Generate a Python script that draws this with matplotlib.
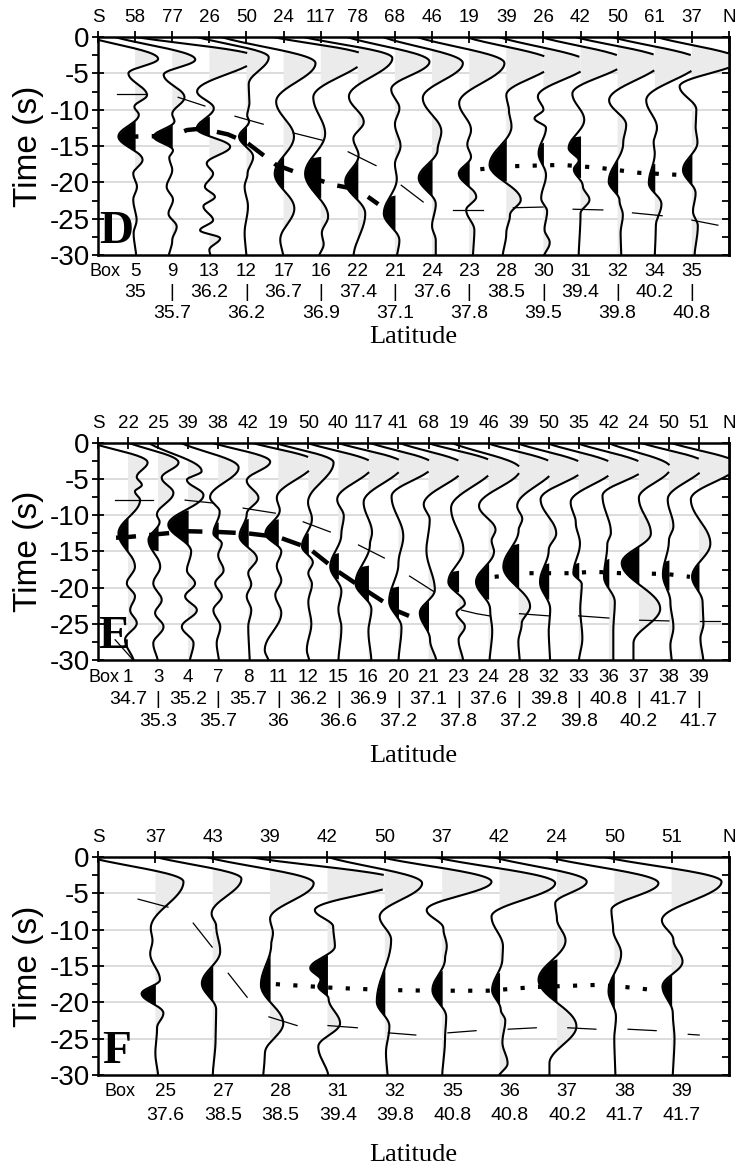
import numpy as np
import matplotlib
matplotlib.use('Agg')
import matplotlib.pyplot as plt
from matplotlib.transforms import blended_transform_factory

plt.rcParams['font.family'] = 'Liberation Sans'

# ---- panel D -------------------------------------------------------------
d_counts = ['58', '77', '26', '50', '24', '117', '78', '68', '46', '19', '39',
            '26', '42', '50', '61', '37']
d_boxes = ['5', '9', '13', '12', '17', '16', '22', '21', '24', '23', '28',
           '30', '31', '32', '34', '35']
d_lats = ['35', '35.7', '36.2', '36.2', '36.7', '36.9', '37.4', '37.1', '37.6',
          '37.8', '38.5', '39.5', '39.4', '39.8', '40.2', '40.8']
# wiggle extrema (time s, amplitude in trace spacings)
d_traces = [
    [(1, -1.6), (-3.0, 0.62), (-5.0, -0.18), (-8.0, 0.32), (-9.6, -0.02), (-10.7, 0.1), (-13.7, -0.45),
     (-16.9, 0.2), (-18.8, -0.05), (-20.6, 0.05), (-22.4, -0.05), (-25.2, 0.04), (-27.0, -0.04), (-30.5, 0.03)],
    [(1, -1.9), (-3.1, 0.62), (-5.2, -0.23), (-8.3, 0.33), (-10.6, 0.0), (-11.6, 0.06), (-13.7, -0.5),
     (-15.6, 0.02), (-16.6, -0.08), (-18.3, 0.0), (-20.6, -0.15), (-22.4, 0.02), (-24.3, -0.1),
     (-26.1, 0.12), (-28.0, 0.0), (-30.5, -0.1)],
    [(1, -2.6), (-2.8, 1.25), (-7.5, -0.33), (-9.8, 0.12), (-12.6, -0.34), (-15.1, 0.56), (-17.4, -0.07),
     (-18.8, 0.1), (-20.6, -0.12), (-22.0, 0.15), (-23.3, -0.16), (-25.2, 0.1), (-26.6, -0.25),
     (-27.7, 0.29), (-29.3, 0.0), (-30.5, 0.05)],
    [(1, -1.7), (-2.8, 0.6), (-6.5, 0.06), (-9.0, 0.08), (-10.8, 0.02), (-11.6, 0.07), (-13.7, -0.2),
     (-16.5, 0.18), (-18.8, 0.03), (-20.6, -0.05), (-23.3, 0.04), (-27.0, -0.05), (-30.5, 0.0)],
    [(1, -2.0), (-3.6, 0.86), (-8.9, -0.2), (-13.7, 0.28), (-18.8, -0.24), (-23.6, 0.29), (-27.9, -0.09),
     (-30.5, 0.0)],
    [(1, -1.8), (-2.7, 1.2), (-8.3, -0.2), (-13.3, 0.12), (-18.8, -0.42), (-24.7, 0.2), (-27.0, 0.03),
     (-28.5, 0.08), (-30.5, -0.06)],
    [(1, -1.9), (-2.9, 0.93), (-8.2, -0.24), (-11.7, 0.16), (-14.0, -0.12), (-16.3, 0.02), (-19.9, -0.34),
     (-24.3, 0.2), (-30.5, -0.12)],
    [(1, -1.6), (-3.4, 0.93), (-7.2, -0.1), (-9.8, 0.12), (-12.0, 0.0), (-15.0, 0.15), (-17.5, 0.0),
     (-19.5, 0.05), (-24.3, -0.3), (-28.0, 0.12), (-30.5, 0.05)],
    [(1, -1.6), (-3.6, 0.83), (-8.4, -0.25), (-13.0, 0.25), (-15.5, 0.15), (-19.4, -0.36), (-23.0, 0.1),
     (-26.0, 0.0), (-28.0, 0.1), (-30.5, 0.1)],
    [(1, -1.7), (-3.6, 0.95), (-9.1, -0.27), (-12.8, 0.05), (-14.8, -0.05), (-16.5, 0.05), (-18.8, -0.28),
     (-22.0, 0.19), (-23.8, -0.08), (-26.6, 0.14), (-30.5, 0.1)],
    [(1, -1.4), (-3.5, 1.25), (-8.0, 0.0), (-10.0, 0.07), (-12.3, 0.14), (-17.6, -0.45), (-22.4, 0.39),
     (-24.5, 0.1), (-27.0, 0.0), (-30.5, -0.1)],
    [(1, -1.5), (-3.6, 1.2), (-8.2, -0.15), (-10.0, 0.0), (-11.2, -0.24), (-12.5, 0.07), (-16.0, -0.13),
     (-19.0, 0.07), (-22.2, -0.06), (-24.0, 0.1), (-26.5, 0.03), (-28.3, 0.17), (-30.5, 0.0)],
    [(1, -1.4), (-3.3, 1.2), (-7.8, -0.22), (-11.4, 0.1), (-15.3, -0.32), (-17.0, -0.05), (-18.2, -0.18),
     (-20.5, 0.06), (-22.4, 0.24), (-24.3, 0.0), (-30.5, -0.05)],
    [(1, -1.5), (-3.2, 1.2), (-8.7, -0.23), (-12.1, 0.23), (-14.6, 0.15), (-19.9, -0.24), (-22.5, 0.05),
     (-24.5, 0.14), (-27.0, 0.08), (-30.5, 0.1)],
    [(1, -1.5), (-3.3, 1.2), (-8.7, -0.23), (-12.5, 0.06), (-14.5, -0.03), (-16.0, 0.0), (-20.1, -0.16),
     (-23.0, 0.18), (-26.0, 0.03), (-30.5, 0.0)],
    [(1, -1.3), (-3.2, 1.3), (-6.8, -0.33), (-10.0, 0.12), (-12.3, 0.1), (-14.5, 0.15), (-18.3, -0.24),
     (-21.5, 0.1), (-24.0, 0.03), (-26.0, 0.16), (-30.5, 0.07)],
]
d_black = [(-11.0, -15.8), (-11.8, -15.3), (-11.0, -14.0), (-11.8, -15.2), (-15.0, -21.0), (-16.5, -22.0),
           (-16.8, -22.8), (-21.8, -26.8), (-16.5, -21.8), (-17.0, -20.6), (-14.2, -19.8), (-14.6, -18.0),
           (-13.7, -19.3), (-16.5, -22.5), (-17.5, -22.4), (-15.5, -20.6)]
d_dash = [(0.55, -13.8), (1, -13.7), (2, -13.6), (2.4, -12.8), (2.8, -12.6), (3.5, -13.4), (4.0, -14.5),
          (4.8, -17.6), (5.7, -19.3), (6.4, -20.4), (7.0, -21.0), (7.55, -23.0)]
d_dot = [(10.3, -18.2), (11, -17.8), (12.5, -17.6), (13.5, -18.0), (14.6, -18.7), (15.75, -19.0)]
d_moveout = [[(0.51, -7.8), (1.32, -7.8)], [(2.16, -8.3), (2.88, -9.5)], [(3.69, -10.9), (4.45, -12.0)],
             [(5.26, -13.2), (6.04, -14.2)], [(6.74, -15.8), (7.49, -17.7)], [(8.17, -20.4), (8.76, -22.7)],
             [(9.57, -23.8), (10.38, -23.8)], [(11.19, -23.5), (11.99, -23.4)], [(12.8, -23.7), (13.6, -23.8)],
             [(14.4, -24.2), (15.2, -24.6)], [(16.0, -25.2), (16.7, -25.9)]]

# ---- panel E -------------------------------------------------------------
e_counts = ['22', '25', '39', '38', '42', '19', '50', '40', '117', '41', '68', '19', '46', '39',
            '50', '35', '42', '24', '50', '51']
e_boxes = ['1', '3', '4', '7', '8', '11', '12', '15', '16', '20', '21', '23', '24', '28', '32',
           '33', '36', '37', '38', '39']
e_lats = ['34.7', '35.3', '35.2', '35.7', '35.7', '36', '36.2', '36.6', '36.9', '37.2', '37.1',
          '37.8', '37.6', '37.2', '39.8', '39.8', '40.8', '40.2', '41.7', '41.7']
e_traces = [
    [(1, -1.6), (-2.7, 0.65), (-4.7, 0.29), (-5.8, 0.46), (-6.7, 0.23), (-7.9, 0.4), (-12.5, -0.32),
     (-17.1, 0.23), (-19.4, -0.04), (-21.2, 0.23), (-23.1, 0.07), (-24.9, 0.29), (-27.2, -0.1), (-30.5, 0.2)],
    [(1, -1.3), (-2.7, 0.68), (-4.8, 0.12), (-6.9, 0.51), (-9.9, -0.04), (-10.9, 0.05), (-13.4, -0.32),
     (-17.1, 0.07), (-19.4, -0.16), (-21.7, 0.12), (-23.5, -0.1), (-25.4, 0.18), (-27.7, -0.16), (-30.5, 0.0)],
    [(1, -1.5), (-3.9, 0.45), (-5.1, -0.04), (-7.2, 0.51), (-11.3, -0.66), (-15.0, 0.1), (-17.6, -0.04),
     (-19.4, 0.23), (-21.2, -0.1), (-23.1, 0.29), (-25.4, -0.21), (-27.7, 0.18), (-30.5, 0.05)],
    [(1, -1.5), (-3.4, 0.68), (-7.5, -0.27), (-9.5, 0.05), (-12.5, -0.16), (-13.9, 0.12), (-15.5, 0.0),
     (-17.6, 0.18), (-19.4, -0.1), (-21.2, 0.12), (-23.1, -0.16), (-25.4, 0.07), (-27.7, -0.05), (-30.5, 0.03)],
    [(1, -1.6), (-2.6, 0.73), (-5.2, -0.05), (-7.6, 0.34), (-9.8, -0.05), (-12.9, -0.29), (-16.0, 0.29),
     (-18.0, 0.0), (-19.5, 0.1), (-21.2, -0.05), (-23.1, 0.1), (-25.4, 0.0), (-30.5, 0.05)],
    [(1, -1.3), (-2.6, 1.2), (-7.6, -0.05), (-9.3, 0.05), (-12.5, -0.43), (-15.0, 0.1), (-17.0, -0.05),
     (-19.0, 0.1), (-21.0, -0.1), (-23.5, 0.1), (-28.6, -0.45), (-30.5, -0.3)],
    [(1, -1.5), (-2.7, 0.84), (-8.2, -0.01), (-10.5, 0.12), (-14.3, -0.21), (-16.5, 0.15), (-18.0, 0.0),
     (-19.5, 0.12), (-22.0, 0.0), (-25.0, 0.1), (-28.6, -0.05), (-30.5, 0.05)],
    [(1, -1.4), (-3.0, 1.15), (-7.8, -0.04), (-10.1, 0.18), (-12.6, 0.1), (-17.1, -0.27), (-20.5, 0.1),
     (-23.0, 0.0), (-25.5, 0.1), (-30.5, 0.0)],
    [(1, -1.4), (-2.9, 1.15), (-8.2, -0.16), (-12.4, 0.12), (-14.0, 0.05), (-19.4, -0.43), (-23.0, 0.1),
     (-26.0, 0.0), (-30.5, 0.1)],
    [(1, -1.3), (-3.0, 1.15), (-7.4, -0.23), (-12.9, 0.16), (-16.6, 0.0), (-21.9, -0.31), (-25.5, 0.1),
     (-30.5, 0.0)],
    [(1, -1.3), (-3.2, 1.2), (-8.5, -0.16), (-10.6, 0.04), (-14.8, -0.07), (-20.3, 0.21), (-23.5, -0.29),
     (-27.2, 0.05), (-30.5, 0.27)],
    [(1, -1.4), (-3.0, 1.2), (-9.0, -0.25), (-14.8, 0.16), (-19.2, -0.34), (-22.2, 0.21), (-23.5, -0.07),
     (-25.4, 0.21), (-27.2, 0.0), (-30.5, 0.16)],
    [(1, -1.5), (-3.6, 1.05), (-8.7, -0.32), (-12.0, 0.23), (-13.5, 0.1), (-15.0, 0.18), (-19.2, -0.42),
     (-23.0, 0.05), (-26.0, 0.12), (-30.5, 0.03)],
    [(1, -1.4), (-3.2, 1.2), (-8.7, -0.05), (-10.5, 0.12), (-12.0, 0.0), (-17.1, -0.51), (-22.6, 0.38),
     (-25.0, 0.1), (-27.5, -0.01), (-30.5, 0.04)],
    [(1, -1.4), (-3.3, 1.2), (-7.8, -0.27), (-12.5, 0.25), (-14.8, 0.0), (-19.2, -0.29), (-23.0, 0.05),
     (-26.0, 0.0), (-30.5, 0.05)],
    [(1, -1.4), (-3.3, 1.2), (-8.2, -0.27), (-11.0, -0.1), (-13.9, 0.04), (-18.0, -0.18), (-19.5, 0.1),
     (-23.0, 0.05), (-27.0, 0.12), (-30.5, 0.0)],
    [(1, -1.4), (-3.3, 1.2), (-7.3, -0.21), (-12.4, 0.07), (-14.0, -0.05), (-18.5, -0.16), (-22.0, 0.2),
     (-26.0, 0.15), (-30.5, 0.15)],
    [(1, -1.3), (-3.4, 1.05), (-7.6, 0.0), (-12.5, 0.4), (-16.6, -0.57), (-22.9, 0.71), (-27.7, -0.18),
     (-30.5, -0.18)],
    [(1, -1.3), (-2.9, 1.2), (-7.8, -0.04), (-11.5, 0.15), (-13.5, 0.0), (-18.2, -0.2), (-22.0, 0.05),
     (-25.5, 0.15), (-28.0, 0.05), (-30.5, 0.1)],
    [(1, -1.3), (-3.0, 1.3), (-7.8, -0.27), (-13.9, 0.38), (-18.5, -0.23), (-22.0, 0.12), (-25.0, 0.15),
     (-27.0, 0.05), (-30.5, 0.15)],
]
e_black = [(-9.7, -14.8), (-11.1, -14.8), (-9.3, -14.8), (-11.0, -13.3), (-10.5, -14.6), (-10.5, -14.6),
           (-12.5, -15.5), (-15.2, -18.7), (-17.0, -22.5), (-19.8, -24.4), (-21.5, -25.9), (-17.7, -20.5),
           (-16.5, -21.5), (-13.9, -20.3), (-16.6, -21.6), (-16.6, -19.7), (-16.0, -20.6), (-13.9, -20.0),
           (-16.2, -20.3), (-16.4, -20.8)]
e_dash = [(0.6, -13.1), (1, -13.0), (2, -12.6), (3, -12.2), (4, -12.3), (5, -12.5), (6, -13.0),
          (7, -14.5), (8, -17.8), (9, -20.6), (10, -23.3), (10.35, -23.9)]
e_dot = [(13.2, -18.5), (14.3, -18.0), (15.7, -18.0), (16.5, -17.8), (17.4, -18.0), (18.9, -18.1),
         (19.7, -18.5)]
e_moveout = [[(0.57, -7.9), (1.83, -7.9)], [(2.9, -7.9), (3.83, -8.3)], [(4.83, -9.0), (5.9, -9.7)],
             [(6.83, -10.9), (7.73, -12.3)], [(8.67, -14.1), (9.53, -15.9)], [(10.37, -18.4), (11.2, -20.6)],
             [(12.1, -23.1), (12.6, -23.6), (13.03, -23.9)], [(14.03, -23.6), (15.0, -23.9)],
             [(16.0, -23.9), (17.0, -24.2)], [(18.03, -24.5), (19.0, -24.6)], [(20.03, -24.6), (20.7, -24.6)],
             [(0.57, -27.2), (1.17, -30.0)]]

# ---- panel F -------------------------------------------------------------
f_counts = ['37', '43', '39', '42', '50', '37', '42', '24', '50', '51']
f_boxes = ['25', '27', '28', '31', '32', '35', '36', '37', '38', '39']
f_lats = ['37.6', '38.5', '38.5', '39.4', '39.8', '40.8', '40.8', '40.2', '41.7', '41.7']
f_traces = [
    [(1, -1.4), (-3.4, 0.49), (-9.8, -0.08), (-11.5, -0.05), (-13.3, -0.09), (-16.9, 0.08), (-18.8, -0.24),
     (-21.5, 0.14), (-23.5, 0.03), (-27.0, 0.0), (-30.5, 0.05)],
    [(1, -1.25), (-3.0, 0.5), (-7.8, -0.02), (-9.5, 0.06), (-13.0, 0.13), (-17.4, -0.19), (-21.0, 0.06),
     (-25.0, 0.05), (-30.5, 0.0)],
    [(1, -1.35), (-3.6, 0.76), (-8.5, 0.0), (-10.5, 0.05), (-12.0, 0.02), (-17.6, -0.16), (-22.9, 0.23),
     (-27.0, -0.09), (-30.5, -0.12)],
    [(1, -1.75), (-3.3, 1.25), (-7.3, -0.22), (-9.6, 0.1), (-12.3, 0.13), (-15.3, -0.3), (-16.9, -0.12),
     (-17.8, -0.16), (-19.5, 0.02), (-22.9, 0.22), (-26.1, -0.16), (-30.5, 0.02)],
    [(1, -1.2), (-3.6, 0.65), (-8.2, -0.09), (-11.4, 0.11), (-19.9, -0.14), (-23.3, 0.08), (-27.0, 0.02),
     (-30.5, 0.05)],
    [(1, -1.35), (-3.4, 0.86), (-7.3, -0.27), (-9.8, 0.02), (-12.3, 0.08), (-14.0, 0.05), (-18.3, -0.17),
     (-22.0, 0.07), (-25.0, 0.05), (-30.5, 0.0)],
    [(1, -1.4), (-3.6, 0.97), (-8.2, -0.14), (-12.3, 0.06), (-14.0, 0.05), (-18.3, -0.13), (-21.0, 0.02),
     (-22.5, 0.1), (-25.5, 0.05), (-28.4, 0.14), (-30.5, -0.03)],
    [(1, -1.35), (-3.4, 0.52), (-6.4, -0.03), (-8.5, 0.0), (-11.5, 0.15), (-16.9, -0.32), (-23.3, 0.34),
     (-28.4, -0.13), (-30.5, -0.13)],
    [(1, -1.4), (-3.6, 0.77), (-7.3, -0.05), (-10.0, -0.02), (-13.3, 0.12), (-18.5, -0.1), (-22.0, 0.03),
     (-25.0, 0.0), (-30.5, 0.02)],
    [(1, -1.45), (-3.4, 0.87), (-8.7, -0.17), (-11.4, 0.03), (-14.4, 0.19), (-17.8, -0.16), (-21.5, 0.02),
     (-25.0, 0.05), (-30.5, 0.02)],
]
f_black = [(-17.5, -20.8), (-14.2, -19.7), (-13.3, -20.0), (-13.2, -19.0), (-15.6, -22.0), (-15.6, -20.6),
           (-16.0, -20.6), (-14.2, -20.1), (-16.0, -21.2), (-16.0, -21.5)]
f_dot = [(3.1, -17.5), (4.1, -18.0), (5.0, -18.3), (5.8, -18.4), (6.8, -18.4), (7.6, -17.9),
         (8.7, -17.6), (9.2, -17.9), (9.8, -18.4)]
f_moveout = [[(0.70, -5.8), (1.22, -6.9)], [(1.66, -9.1), (1.99, -12.4)], [(2.27, -16.0), (2.6, -19.3)],
             [(2.98, -22.0), (3.47, -23.2)], [(4.01, -23.2), (4.52, -23.5)], [(5.06, -24.2), (5.54, -24.5)],
             [(6.1, -24.2), (6.59, -23.9)], [(7.15, -23.7), (7.64, -23.5)], [(8.19, -23.5), (8.68, -23.7)],
             [(9.24, -23.7), (9.73, -23.9)], [(10.29, -24.4), (10.48, -24.5)]]

W, H = 736, 1169
fig = plt.figure(figsize=(W / 100, H / 100), dpi=100)


def smooth(keys, n=30):
    # cosine easing between the read extrema, for drawing only
    ts, amps = [], []
    for (t0, a0), (t1, a1) in zip(keys[:-1], keys[1:]):
        u = np.linspace(0, 1, n, endpoint=False)
        ts.append(t0 + (t1 - t0) * u)
        amps.append(a0 + (a1 - a0) * (1 - np.cos(np.pi * u)) / 2)
    ts.append([keys[-1][0]])
    amps.append([keys[-1][1]])
    return np.concatenate(ts), np.concatenate(amps)


def panel(top_px, bot_px, counts, boxes, lats, traces, black, dash, dot, moveout,
          letter, rows, shift, xlabel_px):
    ax = fig.add_axes([98 / W, 1 - bot_px / H, 631 / W, (bot_px - top_px) / H])
    hpx = bot_px - top_px
    n = len(counts)
    blend = blended_transform_factory(ax.transData, ax.transAxes)

    for k in (-5, -10, -15, -20, -25):
        ax.axhline(k, color='#d2d2d2', lw=1.1, zorder=0)

    for i, (keys, (wtop, wbot)) in enumerate(zip(traces, black), start=1):
        t, a = smooth(keys)
        ax.fill_betweenx(t, i, i + np.minimum(a, 1), where=a > 0, interpolate=True,
                         color='#ebebeb', lw=0, zorder=1)
        win = (a < 0) & (t <= wtop) & (t >= wbot)
        ax.fill_betweenx(t, i, i + a, where=win, interpolate=True, color='k', lw=0, zorder=2)
        x = i + a
        x[a > 1] = np.nan
        ax.plot(x, t, color='k', lw=1.5, zorder=3)

    for seg in moveout:
        xs, ys = zip(*seg)
        ax.plot(xs, ys, color='k', lw=0.9, zorder=4)
    if dash:
        xs, ys = zip(*dash)
        ax.plot(xs, ys, color='k', lw=3.2, ls=(0, (4.5, 3)), dash_capstyle='butt', zorder=5)
    xs, ys = zip(*dot)
    ax.plot(xs, ys, color='k', lw=3.0, ls=(0, (1, 3.2)), dash_capstyle='butt', zorder=5)

    ax.set_xlim(0, n + 1)
    ax.set_ylim(-30, 0)
    for sp in ax.spines.values():
        sp.set_linewidth(1.8)
    ax.set_xticks(range(n + 2))
    ax.xaxis.set_ticks_position('top')
    ax.tick_params(axis='x', direction='inout', length=9, width=1.3,
                   labeltop=False, labelbottom=False)
    ax.set_yticks(range(-30, 1, 5))
    ax.set_yticklabels([str(v) for v in range(-30, 1, 5)], fontsize=20)
    ax.set_yticks(np.arange(-27.5, 0, 5), minor=True)
    ax.tick_params(axis='y', which='major', direction='inout', length=8, width=1.3, pad=2)
    ax.tick_params(axis='y', which='minor', direction='out', length=4, width=1.3)
    sec = ax.secondary_yaxis('right')
    sec.set_yticks(np.arange(-30, 0.1, 2.5))
    sec.tick_params(direction='in', length=5, width=1.3, labelright=False)
    sec.spines['right'].set_linewidth(1.8)

    ax.text(-70 / 631, 0.5, 'Time (s)', transform=ax.transAxes, rotation=90,
            ha='center', va='center', fontsize=24)
    ax.text(0.08 if letter == 'F' else 0.02, -28.4, letter, family='Liberation Serif',
            fontweight='bold', fontsize=34, ha='left', va='baseline', zorder=6)

    for j, lab in enumerate(['S'] + counts + ['N']):
        ax.text(j, 1 + 19 / hpx, lab, transform=blend, ha='center', va='center', fontsize=13.5)

    ax.text(0.2 + shift, -rows[0] / hpx, 'Box', transform=blend, ha='center', va='center',
            fontsize=13)
    for i, b in enumerate(boxes, start=1):
        ax.text(i + shift, -rows[0] / hpx, b, transform=blend, ha='center', va='center',
                fontsize=13.5)
    for i, lat in enumerate(lats, start=1):
        if len(rows) == 3 and i % 2 == 0:
            ax.text(i, -rows[1] / hpx, '|', transform=blend, ha='center', va='center',
                    fontsize=13.5)
            ax.text(i, -rows[2] / hpx, lat, transform=blend, ha='center', va='center',
                    fontsize=14)
        else:
            ax.text(i + shift, -rows[1] / hpx, lat, transform=blend, ha='center',
                    va='center', fontsize=14)
    ax.text(0.5, -xlabel_px / hpx, 'Latitude', transform=ax.transAxes, ha='center',
            va='center', family='Liberation Serif', fontsize=19)
    return ax


panel(37, 255, d_counts, d_boxes, d_lats, d_traces, d_black, d_dash, d_dot, d_moveout,
      'D', (16, 37.5, 59), 0.0, 82)
panel(443, 660, e_counts, e_boxes, e_lats, e_traces, e_black, e_dash, e_dot, e_moveout,
      'E', (17, 40, 62), 0.0, 96)
panel(857, 1075, f_counts, f_boxes, f_lats, f_traces, f_black, None, f_dot, f_moveout,
      'F', (17, 40), 0.18, 80)

fig.savefig('out.png', dpi=100)
